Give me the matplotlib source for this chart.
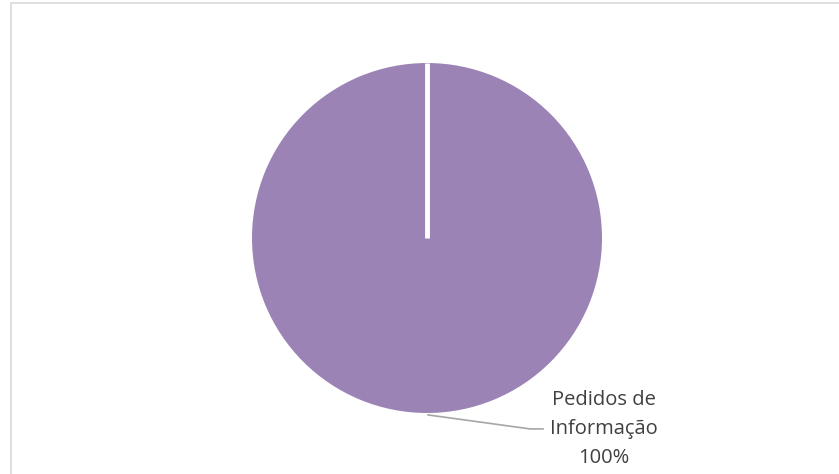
import numpy as np
import matplotlib
matplotlib.use("Agg")
import matplotlib.pyplot as plt
from matplotlib.patches import Rectangle

categories = ["Pedidos de\nInformação"]
values = [100]
colors = ["#9B84B5"]

W, H = 839, 474
fig = plt.figure(figsize=(W / 100, H / 100), dpi=100)
fig.patch.set_facecolor("white")

# chart border
fig.patches.append(Rectangle((10.5 / W, -0.05), (W - 10.5) / W + 0.05, 1.05 - 2.5 / H,
                             transform=fig.transFigure, fill=False,
                             edgecolor="#D9D9D9", linewidth=1.2))

cx, cy, r = 427, 238, 175
ax = fig.add_axes([(cx - r) / W, (H - cy - r) / H, 2 * r / W, 2 * r / H])
startangle = 90
wedges, _ = ax.pie(values, colors=colors, startangle=startangle, counterclock=False,
                   wedgeprops=dict(edgecolor="none"))
ax.set_xlim(-1, 1)
ax.set_ylim(-1, 1)
ax.set_aspect("auto")
ax.axis("off")

# slice edge
a = np.deg2rad(startangle)
ax.plot([0, np.cos(a)], [0, np.sin(a)], color="white", linewidth=3.5,
        solid_capstyle="butt", clip_on=False)

pct = values[0] / sum(values) * 100
label = f"{categories[0]}\n{pct:.0f}%"
ax.text(1.011, -1.092, label, ha="center", va="center", fontsize=14.5,
        family="Open Sans", color="#404040", linespacing=1.58, clip_on=False)
ax.plot([0.006, 0.589, 0.663], [-1.011, -1.091, -1.091], color="#A6A6A6",
        linewidth=1.2, clip_on=False)

fig.savefig("out.png", dpi=100, facecolor="white")
